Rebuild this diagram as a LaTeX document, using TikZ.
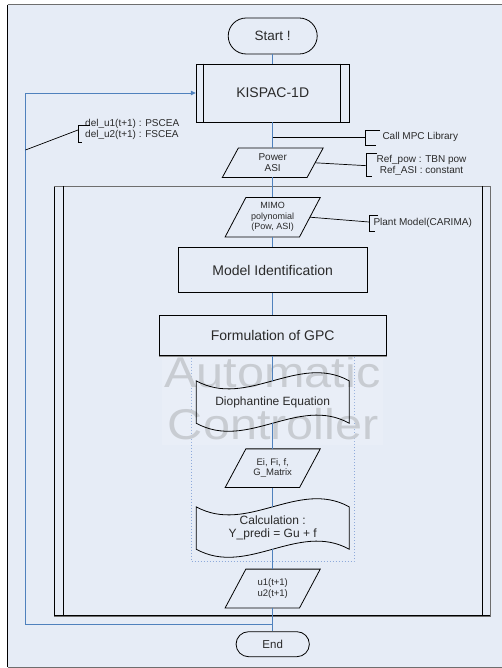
\documentclass[tikz,border=0pt]{standalone}
\usepackage{fontspec}
\setmainfont{Liberation Sans}
\usetikzlibrary{arrows.meta}
\definecolor{bg}{HTML}{E6ECF6}
\definecolor{flow}{HTML}{4F81BD}
\definecolor{grpline}{HTML}{8EAADB}
\definecolor{frameg}{HTML}{6E6E6E}
\definecolor{wm}{HTML}{C8CCD2}
\definecolor{txt}{HTML}{2A2A2A}
\newcommand{\fsz}[2]{\fontsize{#1}{#2}\selectfont}
\newcommand{\paral}[2]{\draw[line width=0.8pt] ([xshift=#2pt]#1.north west) -- (#1.north east) -- ([xshift=-#2pt]#1.south east) -- (#1.south west) -- cycle;}
\newcommand{\tapeshape}[1]{\draw[line width=0.8pt] (#1.north west) .. controls +(50.9,-28) and +(-50.9,28) .. (#1.north east) -- (#1.south east) .. controls +(-50.9,28) and +(50.9,-28) .. (#1.south west) -- cycle;}
\begin{document}
\begin{tikzpicture}[x=1pt,y=1pt,
  every node/.style={text=txt},
  box/.style={draw=black, line width=0.8pt, fill=bg, inner sep=0, align=center},
  ghost/.style={draw=none, inner sep=0, align=center},
  flowline/.style={draw=flow, line width=0.8pt},
  annline/.style={draw=black, line width=0.7pt},
  ann/.style={inner sep=0, font=\fsz{10}{11.3}},
  wmark/.style={anchor=base, inner sep=0, font=\fsz{43}{48}, text=wm, xscale=1.13},
]
\useasboundingbox (0,0) rectangle (502,-668);
\fill[white] (0,0) rectangle (502,-668);
\fill[bg] (7.5,-4.7) rectangle (502,-667.3);
\draw[frameg, line width=1.5pt] (7.5,-4.7) -- (502,-4.7);
\draw[frameg, line width=1.2pt] (7.5,-667.3) -- (502,-667.3);
\draw[black, line width=0.9pt] (7.5,-4.7) -- (7.5,-667.3);

% container
\node[draw=black, line width=0.8pt, minimum width=435.7, minimum height=429, inner sep=0] (ctrl) at (272.15,-401.2) {};
\draw[frameg, line width=1.2pt] (ctrl.north west) -- (ctrl.north east) -- (ctrl.south east) -- (ctrl.south west);
\draw[line width=0.8pt] ([xshift=9pt]ctrl.north west) -- ([xshift=9pt]ctrl.south west);
\draw[line width=0.8pt] ([xshift=-8.3pt]ctrl.north east) -- ([xshift=-8.3pt]ctrl.south east);

% group box
\node[draw=grpline, dash pattern=on 1.5pt off 1.5pt, line width=0.5pt, minimum width=162.3, minimum height=206.7, inner sep=0] (grp) at (272.85,-458.35) {};

% watermark (behind shapes)
\fill[white, opacity=0.12] (162,-355.5) rectangle (383,-445);
\node[wmark] (wm1) at (272.4,-387.3) {Automatic};
\node[wmark] (wm2) at (273.3,-439.5) {Controller};

% shapes
\node[box, rounded corners=18pt, minimum width=89, minimum height=36, font=\fsz{13.5}{15}] (start) at (272.7,-36) {Start !};
\node[box, minimum width=153, minimum height=58, font=\fsz{14}{16}] (kis) at (272.7,-93) {KISPAC-1D};
\draw[line width=0.8pt] ([xshift=8pt]kis.north west) -- ([xshift=8pt]kis.south west);
\draw[line width=0.8pt] ([xshift=-9pt]kis.north east) -- ([xshift=-9pt]kis.south east);

\node[ghost, minimum width=100.4, minimum height=29, font=\fsz{10}{11}] (pw) at (272.7,-162.8) {Power\\ASI};
\paral{pw}{16}
\node[ghost, minimum width=94.7, minimum height=39, font=\fsz{9}{10.5}] (mimo) at (272.7,-217.2) {MIMO\\polynomial\\(Pow, ASI)};
\paral{mimo}{20.7}
\node[box, minimum width=188.7, minimum height=45, font=\fsz{14}{16}] (mid) at (272.7,-270.2) {Model Identification};
\node[box, minimum width=227, minimum height=40.7, font=\fsz{14}{16}] (form) at (272.7,-335.35) {Formulation of GPC};
\draw[draw=black!45, line width=0.9pt] (form.south west) -- (form.south east);
\node[ghost, minimum width=152.6, minimum height=42, font=\fsz{12}{14}] (dio) at (272.7,-402) {Diophantine Equation};
\tapeshape{dio}
\node[ghost, minimum width=94.7, minimum height=38.3, font=\fsz{9.5}{10}] (ei) at (272.7,-468.2) {Ei, Fi, f,\\G\_Matrix};
\paral{ei}{20.7}
\node[ghost, minimum width=152.6, minimum height=42, font=\fsz{12}{12.8}] (calc) at (272.7,-528) {Calculation :\\Y\_predi = Gu + f};
\tapeshape{calc}
\node[ghost, minimum width=94.7, minimum height=38.4, font=\fsz{9.5}{11.7}] (uu) at (272.7,-588.5) {u1(t+1)\\u2(t+1)};
\paral{uu}{20.7}
\node[box, rounded corners=12.5pt, minimum width=73.3, minimum height=25, font=\fsz{11.5}{13}] (end) at (272.7,-644.2) {End};

% flow connectors
\draw[flowline] (start.south) -- (kis.north);
\draw[flowline] (kis.south) -- (pw.north);
\draw[flowline] (pw.south) -- (mimo.north);
\draw[flowline] (mimo.south) -- (mid.north);
\draw[flowline] (mid.south) -- (form.north);
\draw[flowline] (form.south) -- (dio.north);
\draw[flowline] (dio.south) -- (ei.north);
\draw[flowline] (ei.south) -- (calc.north);
\draw[flowline] (calc.south) -- (uu.north);
\draw[flowline] (uu.south) -- (end.north);
\coordinate (jl) at (272.7,-624);
\coordinate (lc) at (25.5,-624);
\draw[flowline, -{Triangle[length=5pt,width=4.5pt]}] (jl) -- (lc) |- (kis.west);

% annotations
\node[ann, anchor=west, align=left] (a1) at (85,-129.7) {del\_u1(t+1) : PSCEA\\del\_u2(t+1) : FSCEA};
\draw[annline] (90,-125.7) -- (78,-125.7) -- (78,-142.7) -- (82,-142.7);
\coordinate (b1) at (78,-130);
\coordinate (lp) at (25.5,-150);
\draw[annline] (b1) -- (lp);

\node[ann, anchor=west] (a2) at (382.3,-137) {Call MPC Library};
\draw[annline] (380,-130) -- (365.7,-130) -- (365.7,-145) -- (376,-145);
\coordinate (j1) at (272.7,-137);
\coordinate (b2) at (365.7,-137);
\draw[annline] (j1) -- (b2);

\node[ann, align=center] (a3) at (421.5,-165.5) {Ref\_pow : TBN pow\\Ref\_ASI : constant};
\draw[annline] (376.7,-153.3) -- (366.7,-153.3) -- (366.7,-176) -- (372,-176);
\coordinate (b3) at (366.7,-165.7);
\draw[annline] ([xshift=-8pt]pw.east) -- (b3);

\node[ann, anchor=west] (a4) at (373.3,-222.7) {Plant Model(CARIMA)};
\draw[annline] (378,-215) -- (369,-215) -- (369,-231) -- (375,-231);
\coordinate (b4) at (369,-222);
\draw[annline] ([xshift=-10.35pt]mimo.east) -- (b4);
\end{tikzpicture}
\end{document}
